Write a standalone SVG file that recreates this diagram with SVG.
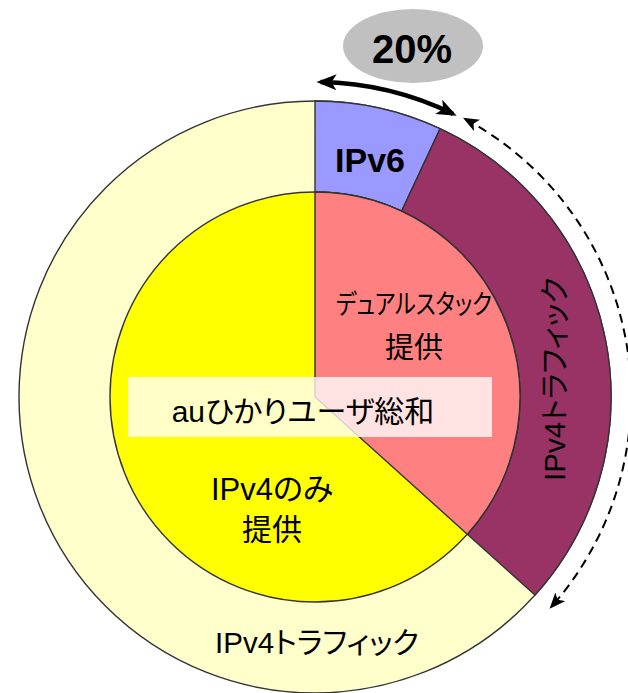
<svg xmlns="http://www.w3.org/2000/svg" width="628" height="693" viewBox="0 0 628 693">
<style>
.slice{stroke:#333;stroke-width:1.4}
.t{font-family:"Liberation Sans","Noto Sans CJK JP",sans-serif;fill:#000;text-anchor:middle;font-feature-settings:"palt"}
.b{font-weight:bold}
</style>
<defs>
<marker id="ah" viewBox="0 0 10 10" refX="8" refY="5" markerWidth="20" markerHeight="16" markerUnits="userSpaceOnUse" orient="auto-start-reverse" preserveAspectRatio="none">
<path d="M0,0 L10,5 L0,10 L2.5,5 Z" fill="#000"/>
</marker>
<marker id="ah2" viewBox="0 0 10 10" refX="8" refY="5" markerWidth="16" markerHeight="13" markerUnits="userSpaceOnUse" orient="auto-start-reverse" preserveAspectRatio="none">
<path d="M0,0 L10,5 L0,10 L2.5,5 Z" fill="#000"/>
</marker>
</defs>
<rect width="628" height="693" fill="#fff"/>
<g id="outer-ipv4">
<circle class="slice" cx="315" cy="397" r="296" fill="#FFFFCC"/>
<text class="t" x="317" y="653" font-size="29.5">IPv4トラフィック</text>
</g>
<g id="outer-ipv6">
<path class="slice" d="M315,101 A296,296 0 0 1 440.1,128.7 L401.6,211.2 A205,205 0 0 0 315,192 Z" fill="#9999FF"/>
<text class="t b" x="370" y="172" font-size="34">IPv6</text>
</g>
<g id="outer-ipv4-dual">
<path class="slice" d="M440.1,128.7 A296,296 0 0 1 535,595.1 L467.3,534.2 A205,205 0 0 0 401.6,211.2 Z" fill="#993366"/>
<text class="t" transform="translate(565,379) rotate(-90)" font-size="29.5">IPv4トラフィック</text>
</g>
<g id="inner-ipv4only">
<circle class="slice" cx="315" cy="397" r="205" fill="#FFFF00"/>
<text class="t" x="272" y="500" font-size="31">IPv4のみ</text>
<text class="t" x="272" y="540" font-size="30">提供</text>
</g>
<g id="inner-dual">
<path class="slice" d="M315,397 L315,192 A205,205 0 0 1 467.3,534.2 Z" fill="#FF8080"/>
<text class="t" x="414" y="314" font-size="27" textLength="156" lengthAdjust="spacingAndGlyphs">デュアルスタック</text>
<text class="t" x="414" y="358" font-size="29">提供</text>
</g>
<g id="total-label">
<rect x="128" y="377" width="364" height="60" fill="#fff" fill-opacity="0.78"/>
<text class="t" x="303" y="422" font-size="30">auひかりユーザ総和</text>
</g>
<g id="ratio">
<ellipse cx="413" cy="46" rx="70" ry="37" fill="#C0C0C0"/>
<text class="t b" x="412" y="63" font-size="40">20%</text>
</g>
<g id="connectors" fill="none" stroke="#000">
<path d="M320.5,82 A315,315 0 0 1 453.1,113.9" stroke-width="4.5" marker-start="url(#ah)" marker-end="url(#ah)"/>
<path d="M465.8,119.3 A316,316 0 0 1 551.7,606.4" stroke-width="2" stroke-dasharray="9,6" marker-start="url(#ah2)" marker-end="url(#ah2)"/>
</g>
</svg>
